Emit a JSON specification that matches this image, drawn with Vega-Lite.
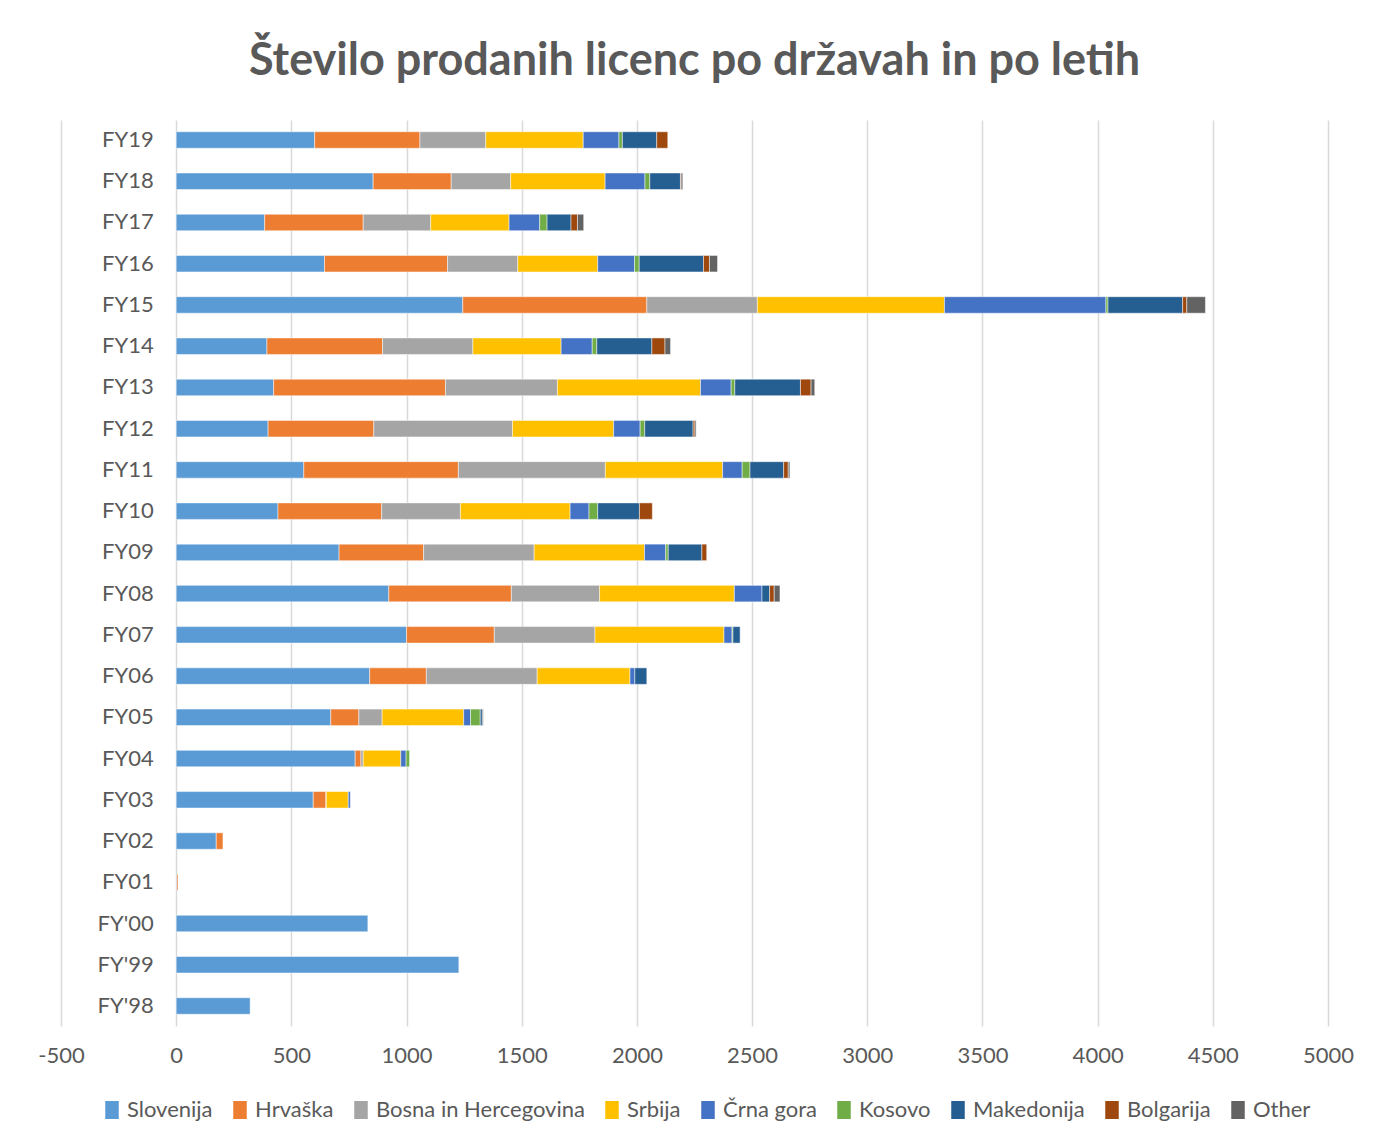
{
  "$schema": "https://vega.github.io/schema/vega-lite/v6.json",
  "autosize": {"type": "none"},
  "width": 1267,
  "height": 906,
  "padding": {"left": 61, "top": 120, "right": 46, "bottom": 116},
  "background": "#ffffff",
  "title": {
    "text": "Število prodanih licenc po državah in po letih",
    "anchor": "middle",
    "font": "Lato",
    "fontSize": 45,
    "fontWeight": "bold",
    "color": "#595959",
    "offset": 36
  },
  "data": {
    "values": [
      {"year": "FY19", "country": "Slovenija", "n": 601},
      {"year": "FY19", "country": "Hrvaška", "n": 457},
      {"year": "FY19", "country": "Bosna in Hercegovina", "n": 286},
      {"year": "FY19", "country": "Srbija", "n": 423},
      {"year": "FY19", "country": "Črna gora", "n": 155},
      {"year": "FY19", "country": "Kosovo", "n": 15},
      {"year": "FY19", "country": "Makedonija", "n": 149},
      {"year": "FY19", "country": "Bolgarija", "n": 48},
      {"year": "FY18", "country": "Slovenija", "n": 855},
      {"year": "FY18", "country": "Hrvaška", "n": 339},
      {"year": "FY18", "country": "Bosna in Hercegovina", "n": 258},
      {"year": "FY18", "country": "Srbija", "n": 410},
      {"year": "FY18", "country": "Črna gora", "n": 173},
      {"year": "FY18", "country": "Kosovo", "n": 21},
      {"year": "FY18", "country": "Makedonija", "n": 133},
      {"year": "FY18", "country": "Bolgarija", "n": 3},
      {"year": "FY18", "country": "Other", "n": 7},
      {"year": "FY17", "country": "Slovenija", "n": 384},
      {"year": "FY17", "country": "Hrvaška", "n": 428},
      {"year": "FY17", "country": "Bosna in Hercegovina", "n": 293},
      {"year": "FY17", "country": "Srbija", "n": 340},
      {"year": "FY17", "country": "Črna gora", "n": 133},
      {"year": "FY17", "country": "Kosovo", "n": 32},
      {"year": "FY17", "country": "Makedonija", "n": 104},
      {"year": "FY17", "country": "Bolgarija", "n": 28},
      {"year": "FY17", "country": "Other", "n": 27},
      {"year": "FY16", "country": "Slovenija", "n": 644},
      {"year": "FY16", "country": "Hrvaška", "n": 534},
      {"year": "FY16", "country": "Bosna in Hercegovina", "n": 305},
      {"year": "FY16", "country": "Srbija", "n": 347},
      {"year": "FY16", "country": "Črna gora", "n": 160},
      {"year": "FY16", "country": "Kosovo", "n": 20},
      {"year": "FY16", "country": "Makedonija", "n": 279},
      {"year": "FY16", "country": "Bolgarija", "n": 26},
      {"year": "FY16", "country": "Other", "n": 35},
      {"year": "FY15", "country": "Slovenija", "n": 1244},
      {"year": "FY15", "country": "Hrvaška", "n": 799},
      {"year": "FY15", "country": "Bosna in Hercegovina", "n": 480},
      {"year": "FY15", "country": "Srbija", "n": 812},
      {"year": "FY15", "country": "Črna gora", "n": 701},
      {"year": "FY15", "country": "Kosovo", "n": 9},
      {"year": "FY15", "country": "Makedonija", "n": 324},
      {"year": "FY15", "country": "Bolgarija", "n": 18},
      {"year": "FY15", "country": "Other", "n": 81},
      {"year": "FY14", "country": "Slovenija", "n": 394},
      {"year": "FY14", "country": "Hrvaška", "n": 502},
      {"year": "FY14", "country": "Bosna in Hercegovina", "n": 392},
      {"year": "FY14", "country": "Srbija", "n": 383},
      {"year": "FY14", "country": "Črna gora", "n": 135},
      {"year": "FY14", "country": "Kosovo", "n": 20},
      {"year": "FY14", "country": "Makedonija", "n": 239},
      {"year": "FY14", "country": "Bolgarija", "n": 57},
      {"year": "FY14", "country": "Other", "n": 24},
      {"year": "FY13", "country": "Slovenija", "n": 423},
      {"year": "FY13", "country": "Hrvaška", "n": 746},
      {"year": "FY13", "country": "Bosna in Hercegovina", "n": 486},
      {"year": "FY13", "country": "Srbija", "n": 621},
      {"year": "FY13", "country": "Črna gora", "n": 133},
      {"year": "FY13", "country": "Kosovo", "n": 16},
      {"year": "FY13", "country": "Makedonija", "n": 285},
      {"year": "FY13", "country": "Bolgarija", "n": 46},
      {"year": "FY13", "country": "Other", "n": 16},
      {"year": "FY12", "country": "Slovenija", "n": 399},
      {"year": "FY12", "country": "Hrvaška", "n": 459},
      {"year": "FY12", "country": "Bosna in Hercegovina", "n": 602},
      {"year": "FY12", "country": "Srbija", "n": 439},
      {"year": "FY12", "country": "Črna gora", "n": 115},
      {"year": "FY12", "country": "Kosovo", "n": 20},
      {"year": "FY12", "country": "Makedonija", "n": 210},
      {"year": "FY12", "country": "Bolgarija", "n": 8},
      {"year": "FY12", "country": "Other", "n": 5},
      {"year": "FY11", "country": "Slovenija", "n": 554},
      {"year": "FY11", "country": "Hrvaška", "n": 671},
      {"year": "FY11", "country": "Bosna in Hercegovina", "n": 638},
      {"year": "FY11", "country": "Srbija", "n": 509},
      {"year": "FY11", "country": "Črna gora", "n": 85},
      {"year": "FY11", "country": "Kosovo", "n": 34},
      {"year": "FY11", "country": "Makedonija", "n": 146},
      {"year": "FY11", "country": "Bolgarija", "n": 20},
      {"year": "FY11", "country": "Other", "n": 7},
      {"year": "FY10", "country": "Slovenija", "n": 442},
      {"year": "FY10", "country": "Hrvaška", "n": 450},
      {"year": "FY10", "country": "Bosna in Hercegovina", "n": 342},
      {"year": "FY10", "country": "Srbija", "n": 476},
      {"year": "FY10", "country": "Črna gora", "n": 82},
      {"year": "FY10", "country": "Kosovo", "n": 38},
      {"year": "FY10", "country": "Makedonija", "n": 181},
      {"year": "FY10", "country": "Bolgarija", "n": 56},
      {"year": "FY09", "country": "Slovenija", "n": 707},
      {"year": "FY09", "country": "Hrvaška", "n": 367},
      {"year": "FY09", "country": "Bosna in Hercegovina", "n": 480},
      {"year": "FY09", "country": "Srbija", "n": 479},
      {"year": "FY09", "country": "Črna gora", "n": 92},
      {"year": "FY09", "country": "Kosovo", "n": 11},
      {"year": "FY09", "country": "Makedonija", "n": 146},
      {"year": "FY09", "country": "Bolgarija", "n": 21},
      {"year": "FY08", "country": "Slovenija", "n": 923},
      {"year": "FY08", "country": "Hrvaška", "n": 532},
      {"year": "FY08", "country": "Bosna in Hercegovina", "n": 383},
      {"year": "FY08", "country": "Srbija", "n": 585},
      {"year": "FY08", "country": "Črna gora", "n": 120},
      {"year": "FY08", "country": "Makedonija", "n": 33},
      {"year": "FY08", "country": "Bolgarija", "n": 20},
      {"year": "FY08", "country": "Other", "n": 25},
      {"year": "FY07", "country": "Slovenija", "n": 1000},
      {"year": "FY07", "country": "Hrvaška", "n": 381},
      {"year": "FY07", "country": "Bosna in Hercegovina", "n": 437},
      {"year": "FY07", "country": "Srbija", "n": 560},
      {"year": "FY07", "country": "Črna gora", "n": 35},
      {"year": "FY07", "country": "Kosovo", "n": 4},
      {"year": "FY07", "country": "Makedonija", "n": 31},
      {"year": "FY06", "country": "Slovenija", "n": 840},
      {"year": "FY06", "country": "Hrvaška", "n": 246},
      {"year": "FY06", "country": "Bosna in Hercegovina", "n": 481},
      {"year": "FY06", "country": "Srbija", "n": 403},
      {"year": "FY06", "country": "Črna gora", "n": 21},
      {"year": "FY06", "country": "Makedonija", "n": 52},
      {"year": "FY05", "country": "Slovenija", "n": 671},
      {"year": "FY05", "country": "Hrvaška", "n": 122},
      {"year": "FY05", "country": "Bosna in Hercegovina", "n": 101},
      {"year": "FY05", "country": "Srbija", "n": 354},
      {"year": "FY05", "country": "Črna gora", "n": 30},
      {"year": "FY05", "country": "Kosovo", "n": 42},
      {"year": "FY05", "country": "Makedonija", "n": 9},
      {"year": "FY05", "country": "Other", "n": 4},
      {"year": "FY04", "country": "Slovenija", "n": 777},
      {"year": "FY04", "country": "Hrvaška", "n": 25},
      {"year": "FY04", "country": "Bosna in Hercegovina", "n": 10},
      {"year": "FY04", "country": "Srbija", "n": 163},
      {"year": "FY04", "country": "Črna gora", "n": 23},
      {"year": "FY04", "country": "Kosovo", "n": 15},
      {"year": "FY03", "country": "Slovenija", "n": 595},
      {"year": "FY03", "country": "Hrvaška", "n": 55},
      {"year": "FY03", "country": "Bosna in Hercegovina", "n": 2},
      {"year": "FY03", "country": "Srbija", "n": 95},
      {"year": "FY03", "country": "Črna gora", "n": 9},
      {"year": "FY02", "country": "Slovenija", "n": 174},
      {"year": "FY02", "country": "Hrvaška", "n": 29},
      {"year": "FY01", "country": "Slovenija", "n": 3},
      {"year": "FY01", "country": "Hrvaška", "n": 5},
      {"year": "FY'00", "country": "Slovenija", "n": 832},
      {"year": "FY'99", "country": "Slovenija", "n": 1227},
      {"year": "FY'98", "country": "Slovenija", "n": 321}
    ]
  },
  "transform": [
    {"calculate": "indexof(['Slovenija', 'Hrvaška', 'Bosna in Hercegovina', 'Srbija', 'Črna gora', 'Kosovo', 'Makedonija', 'Bolgarija', 'Other'], datum.country)", "as": "stackOrder"}
  ],
  "mark": {"type": "bar", "stroke": "#ffffff", "strokeWidth": 0.6, "strokeOpacity": 0.8},
  "encoding": {
    "y": {
      "field": "year",
      "type": "nominal",
      "sort": ["FY19", "FY18", "FY17", "FY16", "FY15", "FY14", "FY13", "FY12", "FY11", "FY10", "FY09", "FY08", "FY07", "FY06", "FY05", "FY04", "FY03", "FY02", "FY01", "FY'00", "FY'99", "FY'98"],
      "scale": {"paddingInner": 0.6, "paddingOuter": 0.285},
      "axis": {
        "title": null,
        "offset": -115.2,
        "domain": false,
        "ticks": false,
        "labelPadding": 23,
        "labelFont": "Lato",
        "labelFontSize": 22,
        "labelColor": "#595959"
      }
    },
    "x": {
      "field": "n",
      "type": "quantitative",
      "stack": "zero",
      "scale": {"domain": [-500, 5000], "nice": false, "zero": false},
      "axis": {
        "title": null,
        "values": [-500, 0, 500, 1000, 1500, 2000, 2500, 3000, 3500, 4000, 4500, 5000],
        "labelExpr": "'' + datum.value",
        "domain": false,
        "ticks": false,
        "grid": true,
        "gridColor": "#d9d9d9",
        "gridWidth": 1.5,
        "labelPadding": 19,
        "labelFont": "Lato",
        "labelFontSize": 22,
        "labelColor": "#595959",
        "labelFlush": false
      }
    },
    "order": {"field": "stackOrder", "type": "quantitative", "sort": "ascending"},
    "color": {
      "field": "country",
      "type": "nominal",
      "sort": ["Slovenija", "Hrvaška", "Bosna in Hercegovina", "Srbija", "Črna gora", "Kosovo", "Makedonija", "Bolgarija", "Other"],
      "scale": {
        "domain": ["Slovenija", "Hrvaška", "Bosna in Hercegovina", "Srbija", "Črna gora", "Kosovo", "Makedonija", "Bolgarija", "Other"],
        "range": ["#5B9BD5", "#ED7D31", "#A5A5A5", "#FFC000", "#4472C4", "#70AD47", "#255E91", "#9E480E", "#636363"]
      },
      "legend": {
        "title": null,
        "orient": "none",
        "legendX": 40,
        "legendY": 979,
        "direction": "horizontal",
        "symbolType": "M-0.75,-1H0.75V1H-0.75Z",
        "symbolSize": 324,
        "symbolStrokeWidth": 0,
        "labelFont": "Lato",
        "labelFontSize": 22,
        "labelColor": "#595959",
        "labelOffset": 4,
        "columnPadding": 16,
        "labelLimit": 400
      }
    }
  },
  "config": {
    "view": {"stroke": null},
    "axis": {"gridOpacity": 1}
  }
}
